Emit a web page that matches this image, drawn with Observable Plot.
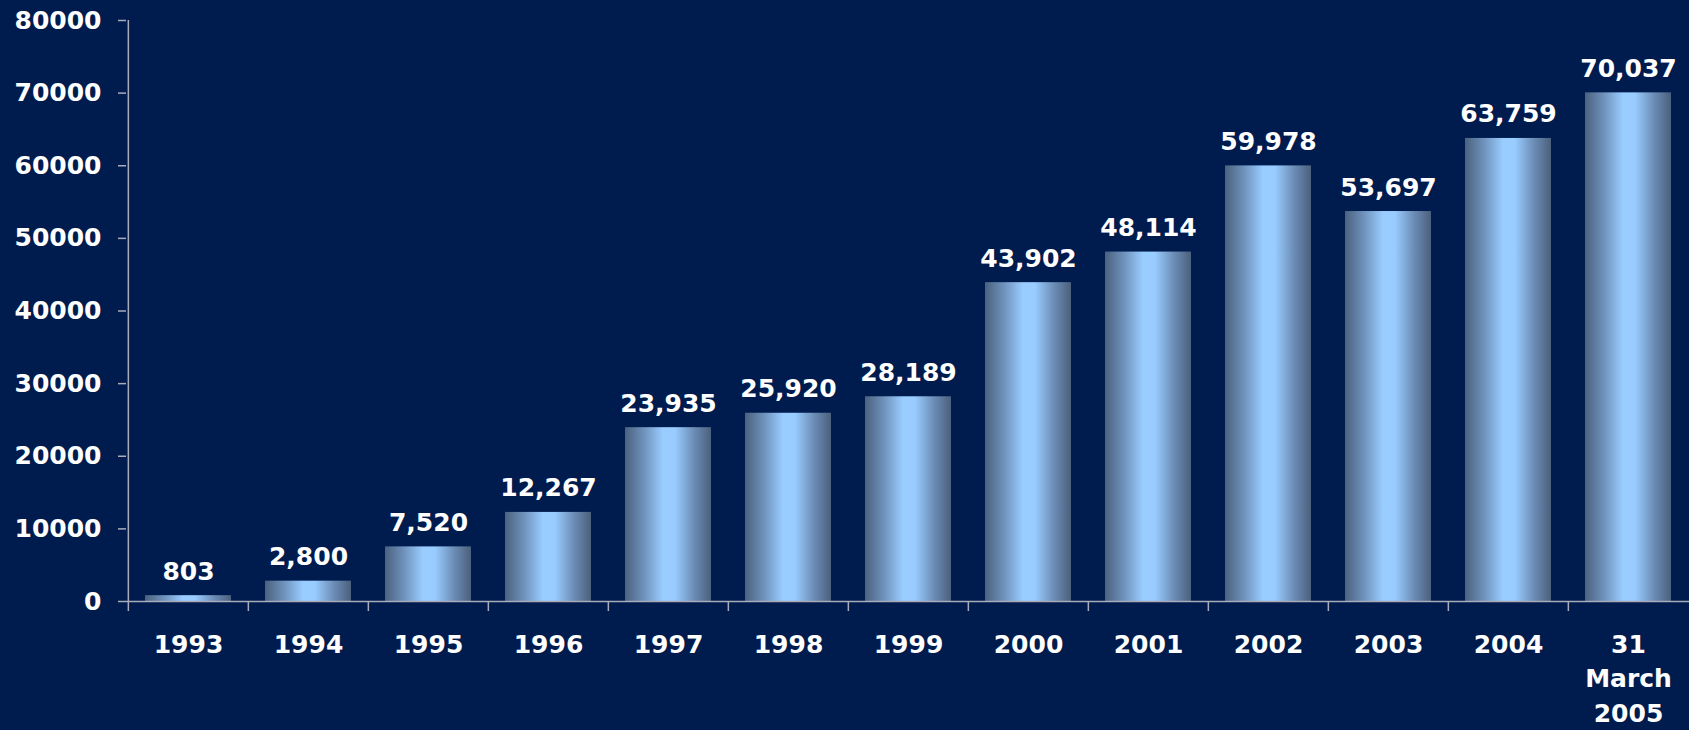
<!DOCTYPE html>
<html><head><meta charset="utf-8">
<script src="https://cdn.jsdelivr.net/npm/d3@7"></script>
<script src="https://cdn.jsdelivr.net/npm/@observablehq/plot@0.6"></script>
<style>html,body{margin:0;padding:0;background:#001c4e;overflow:hidden}</style>
</head><body><div id="chart"></div>
<script>
const categories = ["1993","1994","1995","1996","1997","1998","1999","2000","2001","2002","2003","2004","31\nMarch\n2005"];
const values = [803, 2800, 7520, 12267, 23935, 25920, 28189, 43902, 48114, 59978, 53697, 63759, 70037];
const valueLabels = ["803","2,800","7,520","12,267","23,935","25,920","28,189","43,902","48,114","59,978","53,697","63,759","70,037"];
const yTicks = [0,10000,20000,30000,40000,50000,60000,70000,80000];

const W = 1689, H = 730, mL = 126, mR = -1, mT = 20, mB = 129;
const step = (W - mL - mR) / categories.length;
const data = categories.map((c, i) => ({cat: c, value: values[i], label: valueLabels[i]}));
const grey = "#a9acb8";

const chart = Plot.plot({
  width: W, height: H,
  marginLeft: mL, marginRight: mR, marginTop: mT, marginBottom: mB,
  style: {background: "#001c4e", color: "white", fontFamily: "'DejaVu Sans', sans-serif", fontWeight: "bold", fontSize: "25px", overflow: "visible"},
  x: {domain: categories, paddingInner: 0.28, paddingOuter: 0.14, axis: null},
  y: {domain: [0, 80000], axis: null},
  marks: [
    Plot.barY(data, {x: "cat", y: "value", fill: "url(#barGrad)"}),
    Plot.ruleY([0], {stroke: grey, strokeWidth: 1.5}),
    Plot.ruleX([categories[0]], {dx: -step / 2, y1: 0, y2: 80000, stroke: grey, strokeWidth: 1.5}),
    Plot.axisX({tickSize: 10, dx: -step / 2, tickFormat: () => "", label: null, stroke: grey, strokeWidth: 1.5}),
    Plot.axisX({tickSize: 0, tickPadding: 27, tickFormat: d => d, label: null, lineHeight: 1.38, fill: "white", fontSize: 25, fontWeight: "bold"}),
    Plot.axisY(yTicks, {tickSize: 8, tickPadding: 17, tickFormat: d => String(d), label: null, stroke: grey, strokeWidth: 1.5, fill: "white", fontSize: 25, fontWeight: "bold"}),
    Plot.text(data, {x: "cat", y: "value", text: "label", lineAnchor: "bottom", dy: -16, fill: "white", fontSize: 25, fontWeight: "bold"})
  ]
});

const ns = "http://www.w3.org/2000/svg";
const defs = document.createElementNS(ns, "defs");
const grad = document.createElementNS(ns, "linearGradient");
grad.setAttribute("id", "barGrad");
grad.setAttribute("x1", "0"); grad.setAttribute("x2", "1");
grad.setAttribute("y1", "0"); grad.setAttribute("y2", "0");
[[0, "#4a617e"], [0.22, "#6f92bc"], [0.44, "#99ccff"], [0.58, "#99ccff"], [0.8, "#6c8db6"], [1, "#4b607c"]].forEach(([o, c]) => {
  const s = document.createElementNS(ns, "stop");
  s.setAttribute("offset", o);
  s.setAttribute("stop-color", c);
  grad.appendChild(s);
});
defs.appendChild(grad);
chart.insertBefore(defs, chart.firstChild);
document.getElementById("chart").appendChild(chart);
</script>
</body></html>
